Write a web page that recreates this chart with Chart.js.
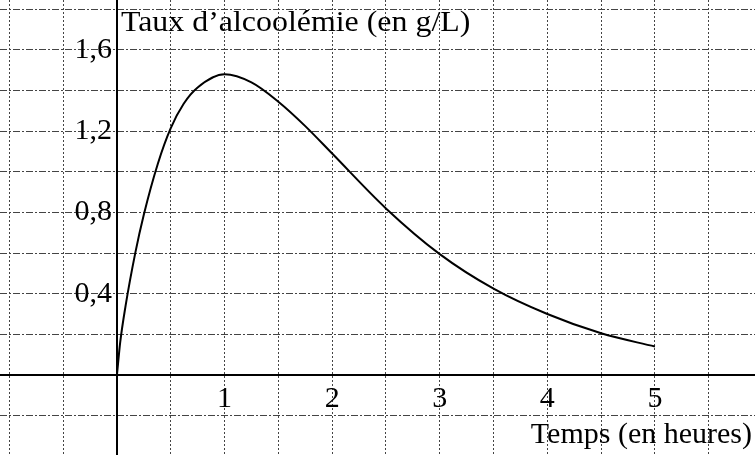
<!DOCTYPE html>
<html>
<head>
<meta charset="utf-8">
<script src="https://cdn.jsdelivr.net/npm/chart.js@4"></script>
<style>
  html, body { margin: 0; padding: 0; background: #fff; }
  #graph { display: block; }
</style>
</head>
<body>
<canvas id="graph" width="755" height="455"></canvas>
<script>
// temps (h) et taux d'alcoolémie (g/L)
const temps = [0, 0.03, 0.08, 0.17, 0.25, 0.38, 0.5, 0.62, 0.75, 1, 1.25, 1.5, 1.75, 2, 2.5, 3, 3.5, 4, 4.5, 5];
const taux = [0, 0.16, 0.34, 0.60, 0.79, 1.04, 1.215, 1.335, 1.415, 1.48, 1.44, 1.345, 1.225, 1.09, 0.82, 0.595, 0.425, 0.30, 0.205, 0.14];

// graduations
const xGrille = [-1, -0.5, 0, 0.5, 1, 1.5, 2, 2.5, 3, 3.5, 4, 4.5, 5, 5.5];
const yGrille = [-0.2, 0, 0.2, 0.4, 0.6, 0.8, 1, 1.2, 1.4, 1.6, 1.8];
const xLabels = ['1', '2', '3', '4', '5'];
const xLabelValues = [1, 2, 3, 4, 5];
const yLabels = ['0,4', '0,8', '1,2', '1,6'];
const yLabelValues = [0.4, 0.8, 1.2, 1.6];

const titreY = 'Taux d\u2019alcoolémie (en g/L)';
const titreX = 'Temps (en heures)';

const police = '"Liberation Serif", "Times New Roman", serif';

const axesPlugin = {
    id: 'axesRepere',
    beforeDatasetsDraw(chart) {
        const ctx = chart.ctx;
        const x = chart.scales.x, y = chart.scales.y;
        const x0 = Math.round(x.getPixelForValue(0));
        const y0 = Math.round(y.getPixelForValue(0));
        ctx.save();
        ctx.strokeStyle = '#000';
        ctx.lineWidth = 2;
        ctx.beginPath();
        ctx.moveTo(x0, chart.chartArea.top);
        ctx.lineTo(x0, chart.chartArea.bottom);
        ctx.moveTo(chart.chartArea.left, y0);
        ctx.lineTo(chart.chartArea.right, y0);
        ctx.stroke();
        ctx.restore();
    },
    afterDraw(chart) {
        const ctx = chart.ctx;
        const x = chart.scales.x, y = chart.scales.y;
        const x0 = x.getPixelForValue(0);
        const y0 = y.getPixelForValue(0);
        ctx.save();
        ctx.fillStyle = '#000';
        ctx.font = '30px ' + police;
        ctx.textBaseline = 'alphabetic';

        // étiquettes de l'axe des ordonnées
        ctx.textAlign = 'right';
        yLabels.forEach((lab, i) => {
            ctx.fillText(lab, x0 - 5, y.getPixelForValue(yLabelValues[i]) + 8);
        });

        // étiquettes de l'axe des abscisses
        ctx.textAlign = 'center';
        xLabels.forEach((lab, i) => {
            ctx.fillText(lab, x.getPixelForValue(xLabelValues[i]), y0 + 32);
        });

        // titre de l'axe des abscisses
        ctx.textAlign = 'right';
        ctx.fillText(titreX, 752, y0 + 68);

        // titre de l'axe des ordonnées (un peu étiré comme sur l'original)
        ctx.font = '29px ' + police;
        ctx.textAlign = 'left';
        ctx.translate(x0 + 4, 31);
        ctx.scale(1.1, 1);
        ctx.fillText(titreY, 0, 0);
        ctx.restore();
    }
};

const ctx = document.getElementById('graph').getContext('2d');

new Chart(ctx, {
    type: 'line',
    data: {
        datasets: [{
            label: 'Taux',
            data: temps.map((t, i) => ({ x: t, y: taux[i] })),
            borderColor: '#000',
            borderWidth: 2,
            pointRadius: 0,
            fill: false,
            cubicInterpolationMode: 'monotone'
        }]
    },
    options: {
        responsive: false,
        devicePixelRatio: 1,
        animation: false,
        layout: { padding: 0 },
        plugins: {
            legend: { display: false },
            tooltip: { enabled: false }
        },
        scales: {
            x: {
                type: 'linear',
                min: -1.087,
                max: 5.93,
                afterBuildTicks: axis => { axis.ticks = xGrille.map(v => ({ value: v })); },
                ticks: { display: false },
                grid: { color: '#444', lineWidth: 1, drawTicks: false },
                border: { display: false, dash: [2, 2] }
            },
            y: {
                type: 'linear',
                min: -0.394,
                max: 1.846,
                afterBuildTicks: axis => { axis.ticks = yGrille.map(v => ({ value: v })); },
                ticks: { display: false },
                grid: { color: '#444', lineWidth: 1, drawTicks: false },
                border: { display: false, dash: [7, 2, 2, 2] }
            }
        }
    },
    plugins: [axesPlugin]
});
</script>
</body>
</html>
